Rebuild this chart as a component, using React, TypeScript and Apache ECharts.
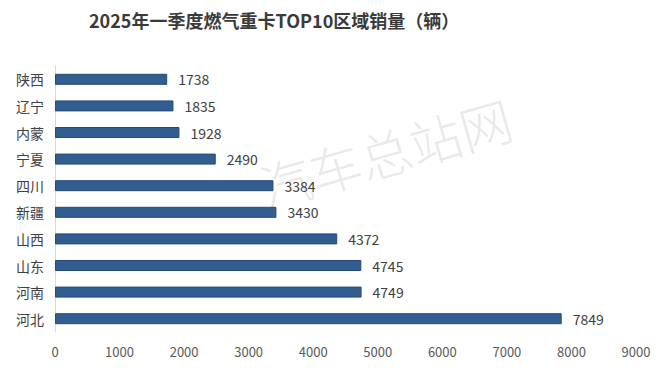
import React, { useEffect, useRef } from "react";
import * as echarts from "echarts";

const categories = ["陕西", "辽宁", "内蒙", "宁夏", "四川", "新疆", "山西", "山东", "河南", "河北"];
const values = [1738, 1835, 1928, 2490, 3384, 3430, 4372, 4745, 4749, 7849];
const titleText = "2025年一季度燃气重卡TOP10区域销量（辆）";
const watermarkText = "汽车总站网";

export default function App() {
  const ref = useRef<HTMLDivElement>(null);
  useEffect(() => {
    document.body.style.margin = "0";
    const chart = echarts.init(ref.current!, null, { renderer: "svg" });
    const font = "'Noto Sans CJK SC', 'Noto Sans', sans-serif";
    chart.setOption({
      animation: false,
      backgroundColor: "#ffffff",
      title: {
        text: titleText,
        left: 84,
        top: 6,
        textStyle: { fontFamily: font, fontSize: 18, fontWeight: "bold", color: "#3a3a3a" },
      },
      graphic: [
        {
          type: "text",
          x: 385,
          y: 152,
          rotation: (16 * Math.PI) / 180,
          z: -1,
          style: {
            text: watermarkText,
            fontFamily: font,
            fontSize: 52,
            fontWeight: 300,
            fill: "rgba(200,200,200,0.4)",
            align: "center",
            verticalAlign: "middle",
          },
        },
      ],
      grid: { left: 55, right: 24, top: 66, bottom: 42, containLabel: false },
      xAxis: {
        type: "value",
        min: 0,
        max: 9000,
        interval: 1000,
        axisLine: { show: false },
        axisTick: { show: false },
        splitLine: { show: false },
        axisLabel: {
          color: "#595959",
          fontSize: 13,
          fontFamily: font,
          margin: 13,
          formatter: (v: number) => String(v),
        },
      },
      yAxis: {
        type: "category",
        data: categories,
        inverse: true,
        axisLine: { show: true, lineStyle: { color: "#d9d9d9", width: 1 } },
        axisTick: { show: false },
        axisLabel: { color: "#404040", fontSize: 14, fontFamily: font, margin: 11 },
      },
      series: [
        {
          type: "bar",
          data: values,
          barWidth: 11,
          itemStyle: { color: "#325d8f", borderColor: "#27497a", borderWidth: 1 },
          label: {
            show: true,
            position: "right",
            distance: 11,
            color: "#404040",
            fontSize: 14,
            fontFamily: font,
          },
        },
      ],
    });
    return () => chart.dispose();
  }, []);
  return (
    <div
      ref={ref}
      style={{ width: 660, height: 374, position: "absolute", left: 0, top: 0 }}
    />
  );
}
